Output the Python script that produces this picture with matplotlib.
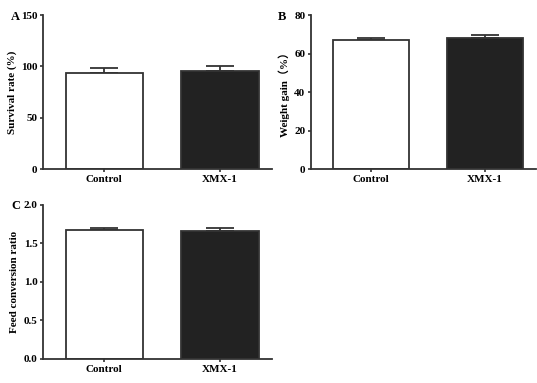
import matplotlib.pyplot as plt
import numpy as np

plt.rcParams['font.family'] = ['Liberation Serif', 'Noto Sans CJK SC']
plt.rcParams['font.weight'] = 'bold'

groups = ['Control', 'XMX-1']
colors = ['white', '#222222']

survival = [94.0, 95.5]
survival_err = [4.2, 4.5]
weight_gain = [67.0, 68.0]
weight_gain_err = [0.9, 1.5]
fcr = [1.68, 1.66]
fcr_err = [0.025, 0.035]

EDGE = '#333333'


def panel(ax, vals, errs, ylabel, ylim, yticks, yfmt):
    x = np.arange(len(vals))
    ax.bar(x, vals, width=0.67, color=colors, edgecolor=EDGE, linewidth=1.3, zorder=2)
    ax.errorbar(x, vals, yerr=[[0] * len(errs), errs], fmt='none', ecolor=EDGE,
                elinewidth=1.3, capsize=10, capthick=1.3, zorder=1)
    ax.set_xlim(-0.53, 1.45)
    ax.set_ylim(*ylim)
    ax.set_yticks(yticks)
    ax.set_yticklabels([yfmt.format(t) for t in yticks], fontsize=8, fontweight='bold')
    ax.set_xticks(x)
    ax.set_xticklabels(groups, fontsize=8, fontweight='bold')
    ax.set_ylabel(ylabel, fontsize=8, fontweight='bold', labelpad=3)
    for s in ['top', 'right']:
        ax.spines[s].set_visible(False)
    for s in ['left', 'bottom']:
        ax.spines[s].set_linewidth(1.3)
        ax.spines[s].set_color(EDGE)
    ax.tick_params(axis='both', length=2.5, width=1.2, color=EDGE, pad=1.5)


fig = plt.figure(figsize=(5.37, 3.83), dpi=100)
axA = fig.add_axes([0.080, 0.5587, 0.4265, 0.4021])
axB = fig.add_axes([0.579, 0.5587, 0.419, 0.4021])
axC = fig.add_axes([0.080, 0.0627, 0.4265, 0.4021])

panel(axA, survival, survival_err, 'Survival rate (%)', (0, 150), [0, 50, 100, 150], '{:.0f}')
panel(axB, weight_gain, weight_gain_err, 'Weight gain（%）', (0, 80), [0, 20, 40, 60, 80], '{:.0f}')
panel(axC, fcr, fcr_err, 'Feed conversion ratio', (0, 2.0), [0, 0.5, 1.0, 1.5, 2.0], '{:.1f}')

for lx, ly, letter in [(0.021, 0.955, 'A'), (0.517, 0.955, 'B'), (0.021, 0.462, 'C')]:
    fig.text(lx, ly, letter, fontsize=9, fontweight='bold', va='center', ha='left')

fig.savefig('out.png', dpi=100)
